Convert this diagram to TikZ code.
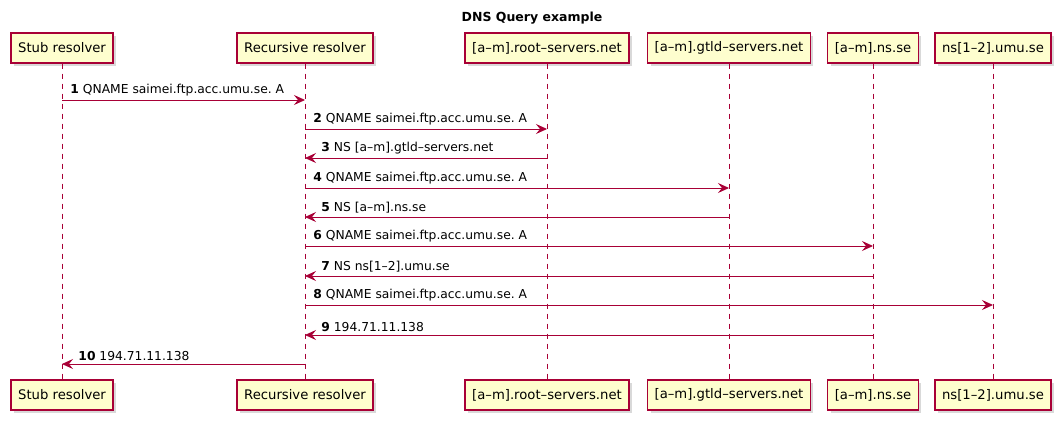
\documentclass[tikz,border=0pt]{standalone}
\usepackage{fontspec}
\setmainfont{DejaVu Sans}
\usepackage{xcolor}
\usepackage{tikz}
\usetikzlibrary{arrows.meta, positioning, shadows}

\definecolor{umlred}{HTML}{A80036}
\definecolor{umlfill}{HTML}{FEFECE}
\frenchspacing

\begin{document}
\begin{tikzpicture}[
        x=1pt, y=-1pt,
        actor/.style={rectangle, draw=umlred, fill=umlfill, line width=1.4pt, inner xsep=7pt, minimum height=30pt, font=\fontsize{13.2}{15}\selectfont, drop shadow={shadow xshift=3pt, shadow yshift=-3pt, opacity=0.3}},
        life/.style={umlred, line width=0.8pt, dash pattern=on 5pt off 5pt},
        msg/.style={-{Stealth[length=11pt, width=10pt, inset=4pt]}, umlred, line width=0.9pt},
        lbl/.style={text=black, font=\fontsize{12.3}{14}\selectfont, inner sep=0pt, anchor=south west, yshift=3pt}
        ]
        \useasboundingbox (0,0) rectangle (1061,421);

        \node[font=\bfseries\fontsize{12.5}{14}\selectfont] (title) at (532,18) {DNS Query example};

        % participants, top row
        \node[actor] (stub) at (62,48) {Stub resolver};
        \node[actor] (rec) at (305,48) {Recursive resolver};
        \node[actor] (root) at (547,48) {[a--m].root--servers.net};
        \node[actor] (gtld) at (729,48) {[a--m].gtld--servers.net};
        \node[actor] (nsse) at (873,48) {[a--m].ns.se};
        \node[actor] (umu) at (993,48) {ns[1--2].umu.se};

        % participants, bottom row
        \node[actor] (stubB) at (62,395) {Stub resolver};
        \node[actor] (recB) at (305,395) {Recursive resolver};
        \node[actor] (rootB) at (547,395) {[a--m].root--servers.net};
        \node[actor] (gtldB) at (729,395) {[a--m].gtld--servers.net};
        \node[actor] (nsseB) at (873,395) {[a--m].ns.se};
        \node[actor] (umuB) at (993,395) {ns[1--2].umu.se};

        % lifelines
        \draw[life] (stub) -- (stubB);
        \draw[life] (rec) -- (recB);
        \draw[life] (root) -- (rootB);
        \draw[life] (gtld) -- (gtldB);
        \draw[life] (nsse) -- (nsseB);
        \draw[life] (umu) -- (umuB);

        % message rows
        \coordinate (m1) at (0,100);
        \coordinate (m2) at (0,129);
        \coordinate (m3) at (0,158);
        \coordinate (m4) at (0,188);
        \coordinate (m5) at (0,217);
        \coordinate (m6) at (0,246);
        \coordinate (m7) at (0,276);
        \coordinate (m8) at (0,305);
        \coordinate (m9) at (0,335);
        \coordinate (m10) at (0,364);

        \draw[msg] (stub |- m1) -- node[lbl, pos=0, xshift=8pt] {\textbf{1} QNAME saimei.ftp.acc.umu.se. A} (rec |- m1);
        \draw[msg] (rec |- m2) -- node[lbl, pos=0, xshift=8pt] {\textbf{2} QNAME saimei.ftp.acc.umu.se. A} (root |- m2);
        \draw[msg] (root |- m3) -- node[lbl, pos=1, xshift=16pt] {\textbf{3} NS [a--m].gtld--servers.net} (rec |- m3);
        \draw[msg] (rec |- m4) -- node[lbl, pos=0, xshift=8pt] {\textbf{4} QNAME saimei.ftp.acc.umu.se. A} (gtld |- m4);
        \draw[msg] (gtld |- m5) -- node[lbl, pos=1, xshift=16pt] {\textbf{5} NS [a--m].ns.se} (rec |- m5);
        \draw[msg] (rec |- m6) -- node[lbl, pos=0, xshift=8pt] {\textbf{6} QNAME saimei.ftp.acc.umu.se. A} (nsse |- m6);
        \draw[msg] (nsse |- m7) -- node[lbl, pos=1, xshift=16pt] {\textbf{7} NS ns[1--2].umu.se} (rec |- m7);
        \draw[msg] (rec |- m8) -- node[lbl, pos=0, xshift=8pt] {\textbf{8} QNAME saimei.ftp.acc.umu.se. A} (umu |- m8);
        \draw[msg] (nsse |- m9) -- node[lbl, pos=1, xshift=16pt] {\textbf{9} 194.71.11.138} (rec |- m9);
        \draw[msg] (rec |- m10) -- node[lbl, pos=1, xshift=16pt] {\textbf{10} 194.71.11.138} (stub |- m10);
    \end{tikzpicture}
\end{document}
